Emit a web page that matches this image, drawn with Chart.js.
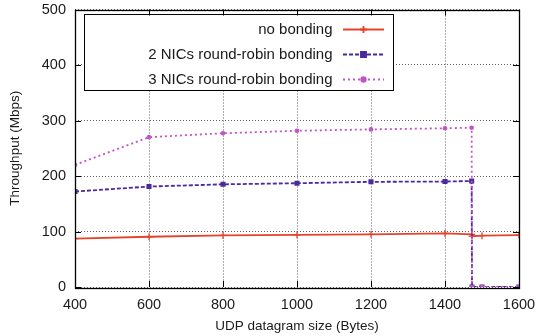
<!DOCTYPE html>
<html>
<head>
<meta charset="utf-8">
<script src="https://cdn.jsdelivr.net/npm/chart.js@4.4.1/dist/chart.umd.min.js"></script>
<style>
  html, body { margin: 0; padding: 0; background: #fff; }
  #wrap { width: 536px; height: 336px; }
</style>
</head>
<body>
<div id="wrap"><canvas id="c" width="536" height="336"></canvas></div>
<script>
// ---- data ----
const sizes      = [400, 600, 800, 1000, 1200, 1400, 1472, 1473, 1500, 1600];
const noBonding  = [87, 90.5, 93, 94, 95, 96.5, 95, 91.5, 92.5, 93.5];
const twoNics    = [172, 181, 185, 187, 189.5, 190, 191, 0, 0, 0];
const threeNics  = [220, 270, 277, 281.5, 284, 286, 287, 0, 0, 0];
const seriesLabels = ['no bonding', '2 NICs round-robin bonding', '3 NICs round-robin bonding'];
const xTicks = [400, 600, 800, 1000, 1200, 1400, 1600];
const yTicks = [0, 100, 200, 300, 400, 500];

const FONT = 'Liberation Sans, Arial, Helvetica, sans-serif';
const pts = arr => sizes.map((x, i) => ({ x: x, y: arr[i] }));

const frame = {
  id: 'frame',
  afterDatasetsDraw(chart) {
    const { ctx, chartArea: a, scales } = chart;
    ctx.save();
    ctx.strokeStyle = '#000';
    ctx.lineWidth = 1;
    ctx.beginPath();
    xTicks.forEach(v => {
      const x = Math.round(scales.x.getPixelForValue(v)) + 0.5;
      ctx.moveTo(x, a.bottom); ctx.lineTo(x, a.bottom - 6);
      ctx.moveTo(x, a.top); ctx.lineTo(x, a.top + 6);
    });
    yTicks.forEach(v => {
      const y = Math.round(scales.y.getPixelForValue(v)) + 0.5;
      ctx.moveTo(a.left, y); ctx.lineTo(a.left + 6, y);
      ctx.moveTo(a.right, y); ctx.lineTo(a.right - 6, y);
    });
    ctx.stroke();
    ctx.lineWidth = 1.3;
    ctx.strokeRect(Math.round(a.left) + 0.5, Math.round(a.top) + 0.5,
                   Math.round(a.right - a.left), Math.round(a.bottom - a.top));
    ctx.restore();
  }
};

const keyBox = {
  id: 'keyBox',
  beforeDatasetsDraw(chart) {
    const { ctx } = chart;
    const bx = 84.5, by = 14.5, bw = 309, bh = 76;
    ctx.save();
    ctx.fillStyle = '#fff';
    ctx.fillRect(bx, by, bw, bh);
    ctx.strokeStyle = '#000';
    ctx.lineWidth = 1;
    ctx.strokeRect(bx, by, bw, bh);
    const rows = [28.7, 53.5, 78.8];
    ctx.font = '15px ' + FONT;
    ctx.textAlign = 'right';
    ctx.textBaseline = 'middle';
    chart.data.datasets.forEach((ds, i) => {
      const y = rows[i];
      ctx.fillStyle = '#1a1a1a';
      ctx.fillText(ds.label, 332.5, y + 1);
      ctx.strokeStyle = ds.borderColor;
      ctx.lineWidth = ds.borderWidth;
      ctx.setLineDash(ds.borderDash || []);
      ctx.beginPath();
      ctx.moveTo(343, Math.round(y) + 0.5);
      ctx.lineTo(384, Math.round(y) + 0.5);
      ctx.stroke();
      ctx.setLineDash([]);
      ctx.fillStyle = ds.backgroundColor;
      ctx.strokeStyle = ds.borderColor;
      Chart.helpers.drawPoint(ctx, {
        pointStyle: ds.pointStyle, radius: ds.pointRadius, rotation: 0,
        borderWidth: ds.pointBorderWidth || 1
      }, 363.5, Math.round(y) + 0.5);
    });
    ctx.restore();
  }
};

const red = '#e6442a', purple = '#4a2a9c', pink = '#c253c9';
const gridOpts = { color: 'rgba(80,80,80,0.9)', lineWidth: 1, drawTicks: false };
const borderOpts = { display: false, dash: [1, 2] };

new Chart(document.getElementById('c'), {
  type: 'line',
  data: {
    datasets: [
      {
        label: seriesLabels[0], data: pts(noBonding), borderColor: red, backgroundColor: red,
        borderWidth: 1.8, pointStyle: 'cross', pointRadius: 3.5, pointBorderWidth: 1.3,
        pointBorderColor: red, order: 2
      },
      {
        label: seriesLabels[1], data: pts(twoNics), borderColor: purple, backgroundColor: purple,
        borderWidth: 1.8, borderDash: [4, 2], pointStyle: 'rect', pointRadius: 3.6,
        pointBorderWidth: 0, order: 1
      },
      {
        label: seriesLabels[2], data: pts(threeNics), borderColor: pink, backgroundColor: pink,
        borderWidth: 1.8, borderDash: [2, 3], pointStyle: 'circle', pointRadius: 2.3,
        pointBorderWidth: 0, order: 0
      }
    ]
  },
  options: {
    responsive: false,
    animation: false,
    devicePixelRatio: 1,
    layout: { padding: { top: 9.5, right: 17, left: 0, bottom: 0 } },
    plugins: { legend: { display: false }, tooltip: { enabled: false } },
    elements: { line: { tension: 0, fill: false } },
    scales: {
      x: {
        type: 'linear', min: 400, max: 1600,
        afterBuildTicks: s => { s.ticks = xTicks.map(v => ({ value: v })); },
        afterFit: s => { s.height = 49; s.paddingLeft = 0; s.paddingRight = 0; },
        border: borderOpts,
        grid: gridOpts,
        ticks: { color: '#1a1a1a', font: { family: FONT, size: 14.5 }, padding: 9, maxRotation: 0,
                 callback: v => String(v) },
        title: { display: true, text: 'UDP datagram size (Bytes)', color: '#1a1a1a',
                 font: { family: FONT, size: 13.5 }, padding: { top: 0, bottom: 2 } }
      },
      y: {
        type: 'linear', min: 0, max: 500,
        afterBuildTicks: s => { s.ticks = yTicks.map(v => ({ value: v })); },
        afterFit: s => { s.width = 75; s.paddingTop = 0; s.paddingBottom = 0; },
        border: borderOpts,
        grid: gridOpts,
        ticks: { color: '#1a1a1a', font: { family: FONT, size: 14.5 }, padding: 9,
                 callback: v => String(v) },
        title: { display: true, text: 'Throughput (Mbps)', color: '#1a1a1a',
                 font: { family: FONT, size: 13.5 }, padding: { top: 7, bottom: 0 } }
      }
    }
  },
  plugins: [keyBox, frame]
});
</script>
</body>
</html>
